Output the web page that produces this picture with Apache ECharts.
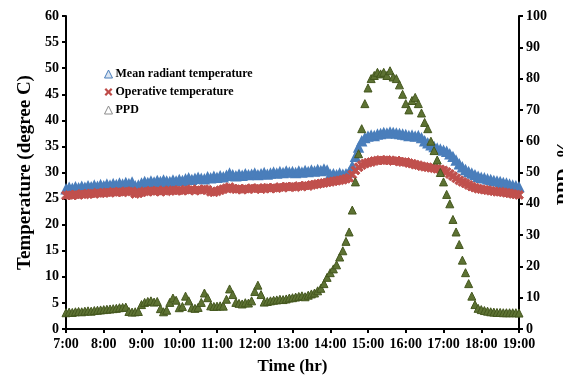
<!DOCTYPE html>
<html>
<head>
<meta charset="utf-8">
<script src="https://cdn.jsdelivr.net/npm/echarts@6/dist/echarts.min.js"></script>
<style>
html,body{margin:0;padding:0;background:#fff;}
#chart{width:563px;height:377px;}
</style>
</head>
<body>
<div id="chart"></div>
<script>
// Sampling grid: every 5 minutes from 7:00 to 19:00 (hours as decimals)
const startHour = 7, endHour = 19, stepMin = 5;
const times = [];
for (let m = startHour * 60; m <= endHour * 60; m += stepMin) times.push(m / 60);

const seriesNames = ['Mean radiant temperature', 'Operative temperature', 'PPD'];

// Mean radiant temperature (degree C), 5-minute readings 7:00 .. 19:00
const mrt = [
  26.8, 27.1, 26.9, 27.2, 27.0, 27.3, 27.1, 27.4, 27.2, 27.5, 27.3, 27.6,
  27.4, 27.7, 27.5, 27.8, 27.6, 27.9, 27.7, 28.0, 27.8, 28.1, 27.4, 27.5,
  27.9, 28.2, 28.0, 28.3, 28.1, 28.4, 28.2, 28.5, 28.3, 28.2, 28.5, 28.3,
  28.6, 28.4, 28.7, 28.9, 28.6, 28.8, 29.0, 28.8, 28.7, 29.1, 28.9, 29.2,
  29.0, 29.3, 29.1, 29.4, 29.8, 29.5, 29.3, 29.6, 29.4, 29.7, 29.5, 29.6,
  29.8, 29.5, 29.7, 29.9, 29.6, 29.8, 30.0, 29.8, 30.1, 29.9, 30.2, 30.0,
  30.1, 29.9, 30.2, 30.0, 30.3, 30.1, 30.4, 30.2, 30.5, 30.3, 30.6, 30.4,
  29.6, 29.7, 29.5, 29.8, 29.6, 29.7, 30.0, 31.2, 33.0, 34.8, 36.0, 36.6,
  36.9, 37.1, 37.0, 37.3, 37.4, 37.6, 37.5, 37.7, 37.6, 37.5, 37.4, 37.3,
  37.2, 37.0, 37.1, 36.9, 37.0, 36.6, 36.0, 35.6, 35.2, 34.9, 34.6, 34.4,
  34.2, 34.0, 33.5, 33.0, 32.3, 31.6, 31.0, 30.5, 30.1, 29.8, 29.5, 29.2,
  29.0, 28.9, 28.7, 28.6, 28.4, 28.3, 28.2, 28.0, 27.9, 27.7, 27.5, 27.4,
  27.2
];

// Operative temperature (degree C)
const operative = [
  25.6, 25.7, 25.6, 25.8, 25.7, 25.9, 25.8, 25.9, 26.0, 25.9, 26.1, 26.0,
  26.1, 26.2, 26.1, 26.3, 26.2, 26.3, 26.2, 26.4, 26.3, 26.4, 25.9, 26.0,
  26.2, 26.4, 26.3, 26.5, 26.4, 26.5, 26.3, 26.6, 26.4, 26.5, 26.6, 26.5,
  26.6, 26.5, 26.7, 26.6, 26.8, 26.5, 26.7, 26.6, 26.8, 26.7, 26.3, 26.2,
  26.4, 26.6, 26.8, 27.0, 27.2, 26.9, 26.8, 26.9, 26.7, 26.9, 26.8, 27.0,
  26.9, 27.0, 26.8, 27.0, 27.1, 26.9, 27.1, 27.0, 27.2, 27.1, 27.3, 27.2,
  27.3, 27.2, 27.4, 27.3, 27.5, 27.4, 27.6, 27.7, 27.8, 27.9, 28.0, 28.1,
  28.2, 28.3, 28.4, 28.5, 28.6, 28.8, 29.0, 29.6, 30.4, 31.0, 31.4, 31.7,
  31.9, 32.0, 32.2, 32.3, 32.4, 32.3, 32.4, 32.3, 32.2, 32.3, 32.1, 32.0,
  32.0, 31.8, 31.7, 31.5, 31.4, 31.2, 31.1, 31.0, 30.9, 30.8, 30.7, 30.6,
  30.4, 30.1, 29.7, 29.3, 28.9, 28.5, 28.2, 27.9, 27.6, 27.3, 27.1, 26.9,
  26.8, 26.7, 26.6, 26.5, 26.4, 26.3, 26.3, 26.2, 26.1, 26.0, 25.9, 25.8,
  25.7
];

// PPD (%)
const ppd = [
  5.2, 5.4, 5.3, 5.5, 5.6, 5.5, 5.7, 5.8, 5.7, 5.9, 6.0, 6.1,
  6.2, 6.3, 6.4, 6.5, 6.6, 6.8, 6.9, 7.0, 5.6, 5.4, 5.5, 5.6,
  7.8, 8.5, 8.8, 9.0, 8.6, 8.8, 6.5, 5.5, 6.0, 8.5, 9.9, 9.2,
  6.8, 7.2, 10.5, 9.0, 6.8, 6.6, 6.9, 8.5, 11.5, 10.0, 7.4, 7.2,
  7.3, 7.4, 7.3, 9.5, 12.8, 11.0, 8.5, 8.2, 8.0, 8.4, 8.3, 9.0,
  12.0, 14.0, 11.0, 8.6, 8.8, 9.0, 9.2, 9.3, 9.5, 9.4, 9.6, 9.9,
  10.0, 10.2, 10.4, 10.6, 10.3, 10.8, 11.2, 11.5, 12.2, 13.0, 14.5, 16.5,
  18.0, 19.2, 20.5, 23.0, 25.0, 28.0, 31.0, 38.0, 47.0, 56.0, 64.0, 72.0,
  77.0, 80.0, 81.0, 82.0, 81.5, 82.0, 81.0, 82.5, 80.5, 80.0, 78.0, 75.0,
  72.0, 70.0, 73.0, 74.0, 72.0, 69.0, 66.0, 64.0, 60.0, 57.0, 54.0, 50.0,
  47.0, 43.0, 40.0, 35.0, 31.0, 27.0, 22.0, 18.0, 14.5, 10.5, 7.8, 6.6,
  6.2, 5.9, 5.7, 5.5, 5.4, 5.3, 5.3, 5.2, 5.2, 5.2, 5.2, 5.2,
  5.1
];

const pair = arr => arr.map((v, i) => [times[i], v]);

const font = '"Liberation Serif", "Times New Roman", serif';
const xSymbol = 'path://M0,2L2,0L5,3L8,0L10,2L7,5L10,8L8,10L5,7L2,10L0,8L3,5Z';

const chart = echarts.init(document.getElementById('chart'), null, {renderer: 'canvas'});
chart.setOption({
  animation: false,
  backgroundColor: '#ffffff',
  grid: {left: 66, right: 44, top: 16, bottom: 48, containLabel: false, outerBoundsMode: 'none'},
  legend: {
    orient: 'vertical',
    left: 99,
    top: 63,
    itemWidth: 8,
    itemHeight: 8,
    itemGap: 6,
    textStyle: {fontFamily: font, fontWeight: 'bold', fontSize: 12, color: '#000', padding: [0, 0, 0, -2]},
    data: [
      {name: seriesNames[0], icon: 'triangle', itemStyle: {color: '#dbe5f1', borderColor: '#4a7ebb', borderWidth: 1}},
      {name: seriesNames[1], icon: xSymbol, itemStyle: {color: '#be4b48', borderWidth: 0}},
      {name: seriesNames[2], icon: 'triangle', itemStyle: {color: '#ffffff', borderColor: '#8c8c8c', borderWidth: 1}}
    ]
  },
  xAxis: {
    type: 'value',
    min: 7, max: 19, interval: 1,
    name: 'Time (hr)',
    nameLocation: 'middle',
    nameGap: 29,
    nameTextStyle: {fontFamily: font, fontWeight: 'bold', fontSize: 17, color: '#000'},
    axisLine: {show: true, lineStyle: {color: '#000', width: 2}},
    axisTick: {show: true, length: 4, lineStyle: {color: '#000', width: 2}},
    axisLabel: {fontFamily: font, fontWeight: 'bold', fontSize: 14, color: '#000', margin: 8,
      formatter: v => v + ':00'},
    splitLine: {show: false}
  },
  yAxis: [
    {
      type: 'value', min: 0, max: 60, interval: 5,
      name: 'Temperature (degree C)',
      nameLocation: 'middle', nameGap: 30,
      nameTextStyle: {fontFamily: font, fontWeight: 'bold', fontSize: 19, color: '#000'},
      axisLine: {show: true, lineStyle: {color: '#000', width: 2}},
      axisTick: {show: true, length: 4, lineStyle: {color: '#000', width: 2}},
      axisLabel: {fontFamily: font, fontWeight: 'bold', fontSize: 14, color: '#000', margin: 7},
      splitLine: {show: false}
    },
    {
      type: 'value', min: 0, max: 100, interval: 10,
      position: 'right',
      name: 'PPD, %',
      nameLocation: 'middle', nameGap: 37,
      nameMoveOverlap: false,
      nameTextStyle: {fontFamily: font, fontWeight: 'bold', fontSize: 19, color: '#000'},
      axisLine: {show: true, lineStyle: {color: '#000', width: 2}},
      axisTick: {show: true, length: 4, lineStyle: {color: '#000', width: 2}},
      axisLabel: {fontFamily: font, fontWeight: 'bold', fontSize: 14, color: '#000', margin: 7},
      splitLine: {show: false}
    }
  ],
  series: [
    {
      name: seriesNames[0], type: 'scatter', yAxisIndex: 0,
      symbol: 'triangle', symbolSize: 9,
      itemStyle: {color: '#4a7ebb', borderColor: '#4a7ebb', borderWidth: 1.5, opacity: 1},
      data: pair(mrt)
    },
    {
      name: seriesNames[1], type: 'scatter', yAxisIndex: 0,
      symbol: xSymbol, symbolSize: 9,
      itemStyle: {color: '#c0504d', borderColor: '#c0504d', borderWidth: 1, opacity: 1},
      data: pair(operative)
    },
    {
      name: seriesNames[2], type: 'scatter', yAxisIndex: 1,
      symbol: 'triangle', symbolSize: 8,
      itemStyle: {color: '#5d7233', borderColor: '#44571e', borderWidth: 1, opacity: 1},
      data: pair(ppd)
    }
  ]
});
</script>
</body>
</html>
